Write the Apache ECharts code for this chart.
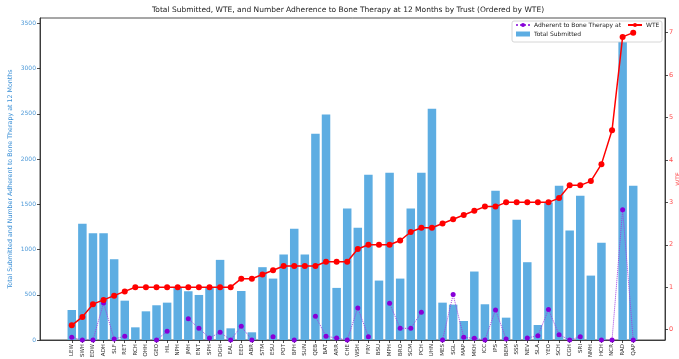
<!DOCTYPE html>
<html>
<head>
<meta charset="utf-8">
<script src="https://cdn.jsdelivr.net/npm/echarts@6/dist/echarts.min.js"></script>
<style>
  html, body { margin: 0; padding: 0; background: #fff; }
  #chart { width: 679px; height: 359px; }
</style>
</head>
<body>
<div id="chart"></div>
<script>
// Trusts, ordered by WTE
const categories = ['LEW','SWH','EDW','ADH','SLF','RET','RCH','OHH','GEO','HIL','NPH','JMH','ENT','SPH','DGH','EAL','EED','ABR','STM','ESU','POT','BFH','SUN','QEB','BAT','ARR','CHE','WSH','FRY','BSU','MPH','BRO','SCM','PCH','UHN','MES','SGL','MAP','MKH','ICC','IPS','BEM','SSS','NEV','SLA','YEO','SCH','CGH','SRI','NMH','HCH','NCR','RAD','QAP'];

// Total submitted per trust (left axis)
const totalSubmitted = [332,1285,1181,1181,893,435,140,317,384,413,583,539,498,583,886,129,542,85,805,679,945,1229,945,2281,2492,576,1454,1240,1827,657,1849,679,1454,1849,2558,413,391,210,757,395,1650,247,1329,860,166,1521,1705,1211,1595,712,1074,0,3297,1705];

// Number adherent to bone therapy at 12 months (left axis); null = not reported
const adherent = [30,0,0,410,11,41,null,null,0,96,null,236,129,22,85,0,151,0,null,37,null,0,null,262,41,22,0,354,37,null,406,129,129,306,null,0,502,30,18,0,332,11,null,22,48,336,59,0,37,null,0,0,1440,0];

// Whole-time equivalent (right axis)
const wte = [0.1,0.3,0.6,0.7,0.8,0.9,1,1,1,1,1,1,1,1,1,1,1.2,1.2,1.3,1.4,1.5,1.5,1.5,1.5,1.6,1.6,1.6,1.9,2,2,2,2.1,2.3,2.4,2.4,2.5,2.6,2.7,2.8,2.9,2.9,3,3,3,3,3,3.1,3.4,3.4,3.5,3.9,4.7,6.9,7];

const titleText = 'Total Submitted, WTE, and Number Adherence to Bone Therapy at 12 Months by Trust (Ordered by WTE)';
const leftAxisName = 'Total Submitted and Number Adherent to Bone Therapy at 12 Months';

// Empty slots either side of the trusts give the plot its side margins
const PAD = 3;
const blanks = Array.from({ length: PAD }, (_, i) => ' '.repeat(i + 1));
const xCats = [...blanks, ...categories, ...blanks.map(s => s + ' '.repeat(PAD))];
const pad = arr => [...Array(PAD).fill(null), ...arr, ...Array(PAD).fill(null)];
const isReal = i => i >= PAD && i < PAD + categories.length;

const FONT = 'DejaVu Sans';

const option = {
  animation: false,
  backgroundColor: '#ffffff',
  textStyle: { fontFamily: FONT },
  title: {
    text: titleText,
    left: 152,
    top: 6,
    padding: 0,
    textStyle: { fontFamily: FONT, fontSize: 7.5, fontWeight: 'normal', color: '#222' }
  },
  grid: {
    left: 40, right: 14, top: 18, bottom: 19,
    containLabel: false,
    outerBoundsMode: 'none',
    show: true, borderColor: '#222', borderWidth: 0.8, backgroundColor: 'transparent'
  },
  legend: [
    {
      data: ['Adherent to Bone Therapy at', { name: 'Total Submitted', icon: 'rect' }],
      orient: 'vertical',
      left: 515, top: 22,
      padding: 0, itemGap: 3,
      itemWidth: 14, itemHeight: 5,
      z: 10,
      textStyle: { fontFamily: FONT, fontSize: 6, color: '#222', padding: [0, 0, 0, -1] }
    },
    {
      data: ['WTE'],
      left: 627, top: 22,
      padding: 0,
      itemWidth: 14, itemHeight: 5,
      z: 10,
      textStyle: { fontFamily: FONT, fontSize: 6, color: '#222', padding: [0, 0, 0, -1] }
    }
  ],
  graphic: [
    {
      type: 'rect',
      z: 9,
      shape: { x: 512, y: 21, width: 150, height: 21, r: 2 },
      style: { fill: 'rgba(255,255,255,0.8)', stroke: '#cccccc', lineWidth: 0.8 }
    }
  ],
  xAxis: {
    type: 'category',
    data: xCats,
    boundaryGap: false,
    axisLine: { lineStyle: { color: '#222', width: 0.8 } },
    axisTick: { interval: (i) => isReal(i), length: 3, lineStyle: { color: '#222', width: 0.8 } },
    axisLabel: { interval: 0, rotate: 90, fontSize: 5.5, color: '#333', margin: 4, fontFamily: FONT },
    splitLine: { show: false }
  },
  yAxis: [
    {
      type: 'value',
      position: 'left',
      min: 0, max: 3560, interval: 500,
      name: leftAxisName,
      nameLocation: 'middle',
      nameGap: 27,
      nameMoveOverlap: false,
      nameTextStyle: { color: '#3a8fd6', fontSize: 6.3, fontFamily: FONT },
      axisLine: { show: true, lineStyle: { color: '#222', width: 0.8 } },
      axisTick: { show: true, length: 3, lineStyle: { color: '#222', width: 0.8 } },
      axisLabel: {
        color: '#4f9ad8', fontSize: 6, margin: 4, showMaxLabel: false, fontFamily: FONT,
        formatter: (v) => String(v)
      },
      splitLine: { show: false }
    },
    {
      type: 'value',
      position: 'right',
      min: -0.245, max: 7.345, splitNumber: 8,
      name: 'WTE',
      nameLocation: 'middle',
      nameGap: 10,
      nameMoveOverlap: false,
      nameRotate: 90,
      nameTextStyle: { color: '#ff4040', fontSize: 6, fontFamily: FONT },
      axisLine: { show: true, lineStyle: { color: '#222', width: 0.8 } },
      axisTick: { show: true, length: 3, lineStyle: { color: '#222', width: 0.8 } },
      axisLabel: { color: '#ff4d4d', fontSize: 6.5, margin: 4, showMinLabel: false, showMaxLabel: false, fontFamily: FONT },
      splitLine: { show: false }
    }
  ],
  series: [
    {
      name: 'Total Submitted',
      type: 'bar',
      yAxisIndex: 0,
      data: pad(totalSubmitted),
      barWidth: 8.5,
      itemStyle: { color: '#5dade2' },
      z: 2
    },
    {
      name: 'Adherent to Bone Therapy at',
      type: 'line',
      yAxisIndex: 0,
      data: pad(adherent),
      connectNulls: false,
      symbol: 'circle',
      symbolSize: 5,
      lineStyle: { type: 'dotted', color: '#a040e0', width: 1 },
      itemStyle: { color: '#8800d8' },
      z: 3
    },
    {
      name: 'WTE',
      type: 'line',
      yAxisIndex: 1,
      data: pad(wte),
      symbol: 'circle',
      symbolSize: 6,
      lineStyle: { color: '#ff0000', width: 1.5 },
      itemStyle: { color: '#ff0000' },
      z: 12
    }
  ]
};

const chart = echarts.init(document.getElementById('chart'), null, { renderer: 'canvas' });
chart.setOption(option);
</script>
</body>
</html>
